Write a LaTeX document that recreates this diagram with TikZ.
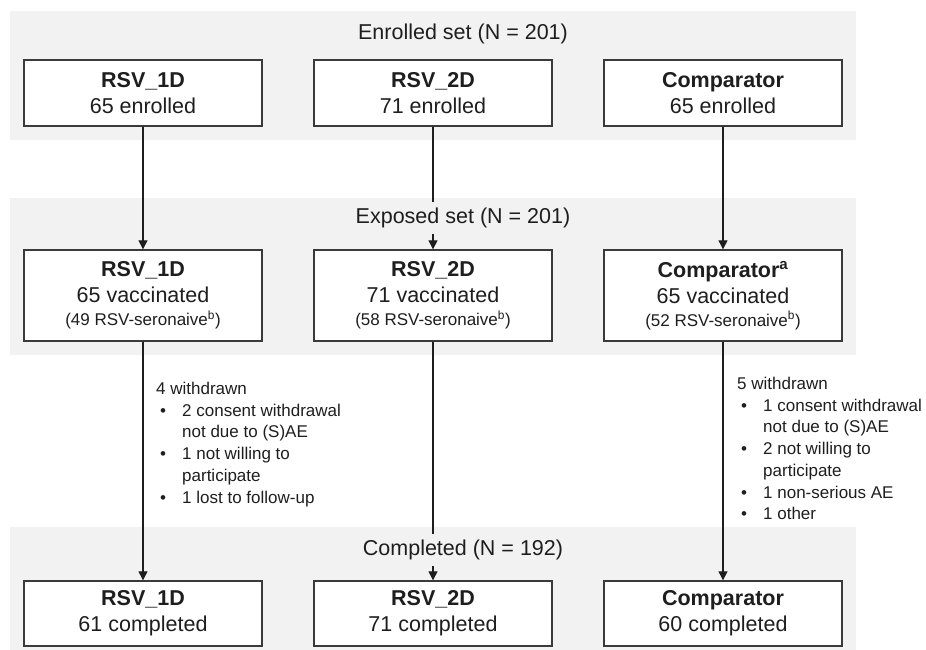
\documentclass[tikz,border=0pt]{standalone}
\usepackage{fontspec}
\setmainfont{Liberation Sans}
\usetikzlibrary{positioning, arrows.meta}
\definecolor{bandgray}{HTML}{F2F2F2}
\definecolor{boxline}{HTML}{3A3A3A}
\definecolor{ink}{HTML}{1E1E1E}
\newcommand{\bul}{\makebox[26pt][l]{\hspace{4pt}\textbullet}}
\newcommand{\ind}{\hspace*{26pt}}
\newcommand{\smalltxt}{\fontsize{17}{21}\selectfont}
\tikzset{
  grp/.style={draw=boxline, line width=1.4pt, fill=white, minimum width=238pt,
    align=center, text=ink, font=\fontsize{21.5}{26}\selectfont},
  settitle/.style={fill=bandgray, anchor=base, inner sep=6pt, text=ink,
    font=\fontsize{21.5}{26}\selectfont},
  flow/.style={draw=ink, line width=1.3pt, -{Triangle[length=9pt,width=9pt]}},
  drop/.style={anchor=north west, inner sep=0pt, align=left, text=ink,
    font=\fontsize{17}{21.7}\selectfont},
}

\begin{document}
\begin{tikzpicture}[x=1pt,y=-1pt,node distance=290pt,on grid]
\useasboundingbox (0,0) rectangle (926,650);
% bands
\fill[bandgray] (10,11) rectangle (856,140);
\fill[bandgray] (10,198) rectangle (856,355);
\fill[bandgray] (10,527) rectangle (856,650);

% enrolled
\node[grp, minimum height=66pt] (e1) at (143,93) {\textbf{RSV\_1D}\\65 enrolled};
\node[grp, minimum height=66pt, right=of e1] (e2) {\textbf{RSV\_2D}\\71 enrolled};
\node[grp, minimum height=66pt, right=of e2] (e3) {\textbf{Comparator}\\65 enrolled};

% exposed
\node[grp, minimum height=91pt, below=202.5pt of e1] (v1)
  {\textbf{RSV\_1D}\\65 vaccinated\\[-3pt]{\smalltxt(49 RSV-seronaive\textsuperscript{b})}};
\node[grp, minimum height=91pt, right=of v1] (v2)
  {\textbf{RSV\_2D}\\71 vaccinated\\[-3pt]{\smalltxt(58 RSV-seronaive\textsuperscript{b})}};
\node[grp, minimum height=91pt, right=of v2] (v3)
  {\textbf{Comparator\textsuperscript{a}}\\65 vaccinated\\[-3pt]{\smalltxt(52 RSV-seronaive\textsuperscript{b})}};

% completed
\node[grp, minimum height=65pt, below=318pt of v1] (c1) {\textbf{RSV\_1D}\\61 completed};
\node[grp, minimum height=65pt, right=of c1] (c2) {\textbf{RSV\_2D}\\71 completed};
\node[grp, minimum height=65pt, right=of c2] (c3) {\textbf{Comparator}\\60 completed};

\draw[flow] (e1) -- (v1);
\draw[flow] (e2) -- (v2);
\draw[flow] (e3) -- (v3);
\draw[flow] (v1) -- (c1);
\draw[flow] (v2) -- (c2);
\draw[flow] (v3) -- (c3);

% set titles, on top of the lines
\node[settitle] (enr) at (463,39.5) {Enrolled set (N = 201)};
\node[settitle] (exp) at (463,223.5) {Exposed set (N = 201)};
\node[settitle] (cmp) at (463,555.5) {Completed (N = 192)};

% withdrawals
\node[drop] (w1) at (156,382) {4 withdrawn\\
  \bul 2 consent withdrawal\\ \ind not due to (S)AE\\
  \bul 1 not willing to\\ \ind participate\\
  \bul 1 lost to follow-up};
\node[drop] (w3) at (737,377) {5 withdrawn\\
  \bul 1 consent withdrawal\\ \ind not due to (S)AE\\
  \bul 2 not willing to\\ \ind participate\\
  \bul 1 non-serious AE\\
  \bul 1 other};
\end{tikzpicture}
\end{document}
